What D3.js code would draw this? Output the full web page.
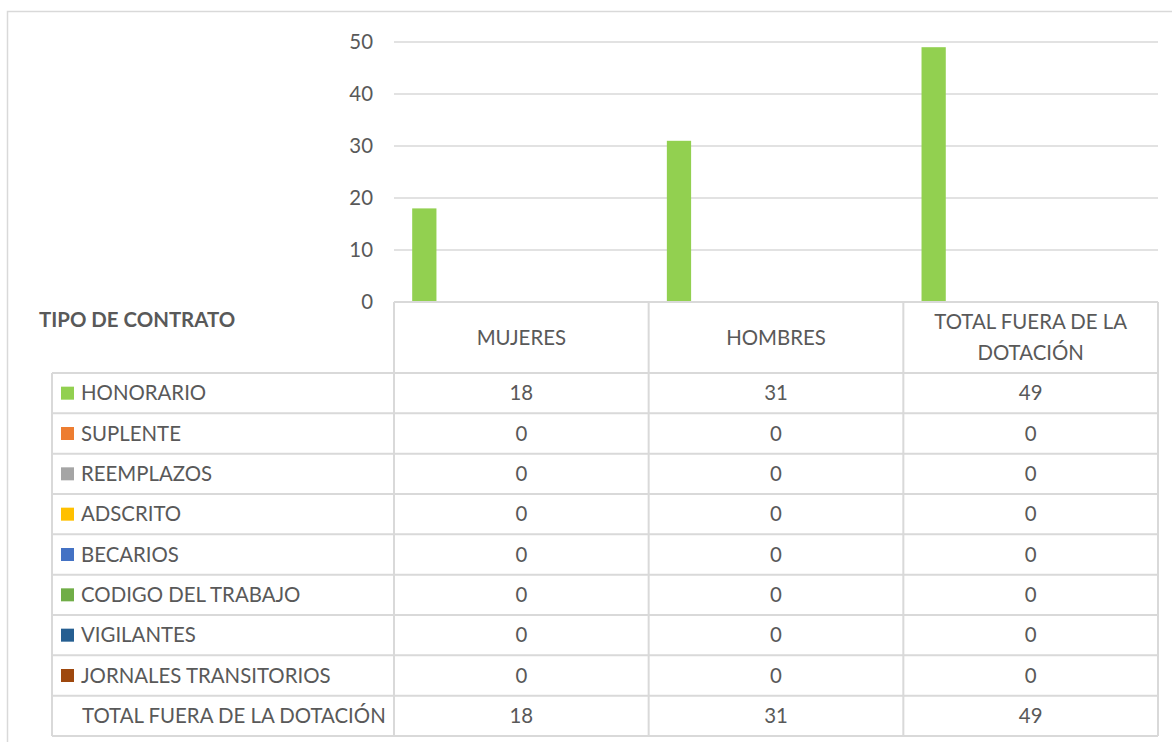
<!DOCTYPE html>
<html>
<head>
<meta charset="utf-8">
<script src="https://cdn.jsdelivr.net/npm/d3@7"></script>
<style>
  html, body { margin: 0; padding: 0; background: #fff; }
  svg { display: block; }
  text { font-family: Lato, "Open Sans", sans-serif; fill: #595959; }
</style>
</head>
<body>
<svg id="chart" width="1172" height="742"></svg>
<script>
// ---- data ----
const categories = ["MUJERES", "HOMBRES", "TOTAL FUERA DE LA DOTACIÓN"];
const categoryLines = [["MUJERES"], ["HOMBRES"], ["TOTAL FUERA DE LA", "DOTACIÓN"]];
const seriesNames = ["HONORARIO", "SUPLENTE", "REEMPLAZOS", "ADSCRITO", "BECARIOS",
  "CODIGO DEL TRABAJO", "VIGILANTES", "JORNALES TRANSITORIOS", "TOTAL FUERA DE LA DOTACIÓN"];
const honorario = [18, 31, 49];
const suplente = [0, 0, 0];
const reemplazos = [0, 0, 0];
const adscrito = [0, 0, 0];
const becarios = [0, 0, 0];
const codigoDelTrabajo = [0, 0, 0];
const vigilantes = [0, 0, 0];
const jornalesTransitorios = [0, 0, 0];
const totalFuera = [18, 31, 49];
const seriesValues = [honorario, suplente, reemplazos, adscrito, becarios,
  codigoDelTrabajo, vigilantes, jornalesTransitorios, totalFuera];
const seriesColors = ["#92D050", "#ED7D31", "#A5A5A5", "#FFC000", "#4472C4",
  "#70AD47", "#255E91", "#9E480E", null];
const yTicks = [0, 10, 20, 30, 40, 50];
const axisTitle = "TIPO DE CONTRATO";

// ---- layout ----
const svg = d3.select("#chart");
const plotL = 394, plotR = 1158, plotT = 42, plotB = 302;
const tableL = 52, headerB = 373, tableB = 736;
const grid = "#d9d9d9";

// font fitting (Calibri-like metrics)
const probe = svg.append("text").attr("font-size", 20).text("TOTAL FUERA DE LA DOTACIÓN");
const fs = 20 * 304 / probe.node().getComputedTextLength();
probe.remove();

// outer chart frame
svg.append("path").attr("d", `M7.5,742 V11.5 H1172`)
  .attr("fill", "none").attr("stroke", grid).attr("stroke-width", 1.5);

const x0 = d3.scaleBand().domain(categories).range([plotL, plotR]).padding(0);
const x1 = d3.scaleBand().domain(seriesNames).range([0, x0.bandwidth()])
  .paddingInner(0).paddingOuter(0.75);
const y = d3.scaleLinear().domain([0, 50]).range([plotB, plotT]);

// gridlines
svg.append("g").selectAll("line").data(yTicks).join("line")
  .attr("x1", plotL).attr("x2", plotR)
  .attr("y1", d => y(d)).attr("y2", d => y(d))
  .attr("stroke", grid).attr("stroke-width", 1.5);

// y axis labels
const yAxis = d3.axisLeft(y).tickValues(yTicks).tickSize(0).tickPadding(0);
const yg = svg.append("g").attr("transform", `translate(${plotL - 21},0)`).call(yAxis);
yg.select(".domain").remove();
yg.selectAll("text").attr("font-size", fs).attr("fill", "#595959")
  .style("font-family", "Lato, 'Open Sans', sans-serif");

// bars
const barData = [];
seriesNames.forEach((s, si) => {
  if (!seriesColors[si]) return;
  categories.forEach((c, ci) => {
    if (seriesValues[si][ci] > 0) barData.push({ s, c, v: seriesValues[si][ci], color: seriesColors[si] });
  });
});
svg.append("g").selectAll("rect").data(barData).join("rect")
  .attr("x", d => x0(d.c) + x1(d.s))
  .attr("width", x1.bandwidth())
  .attr("y", d => y(d.v))
  .attr("height", d => y(0) - y(d.v))
  .attr("fill", d => d.color);

// data table
const rowY = d3.scaleBand().domain(seriesNames).range([headerB, tableB]).padding(0);
const tg = svg.append("g");
// horizontal lines
tg.append("line").attr("x1", plotL).attr("x2", plotR).attr("y1", plotB).attr("y2", plotB)
  .attr("stroke", grid).attr("stroke-width", 2);
const hLines = [headerB, ...seriesNames.map(s => rowY(s) + rowY.bandwidth())];
tg.selectAll("line.h").data(hLines).join("line").attr("class", "h")
  .attr("x1", tableL).attr("x2", plotR).attr("y1", d => d).attr("y2", d => d)
  .attr("stroke", grid).attr("stroke-width", 2);
// vertical lines
const vLines = [...categories.map(c => x0(c)), plotR];
tg.selectAll("line.v").data(vLines).join("line").attr("class", "v")
  .attr("x1", d => d).attr("x2", d => d).attr("y1", plotB).attr("y2", tableB)
  .attr("stroke", grid).attr("stroke-width", 2);
tg.append("line").attr("x1", tableL).attr("x2", tableL).attr("y1", headerB).attr("y2", tableB)
  .attr("stroke", grid).attr("stroke-width", 2);

// header labels
categories.forEach((c, ci) => {
  const lines = categoryLines[ci];
  const cx = x0(c) + x0.bandwidth() / 2;
  const cy = (plotB + headerB) / 2;
  const lh = 31;
  lines.forEach((l, li) => {
    tg.append("text").attr("x", cx).attr("y", cy + (li - (lines.length - 1) / 2) * lh)
      .attr("dy", "0.35em").attr("text-anchor", "middle").attr("font-size", fs).text(l);
  });
});

// axis title
svg.append("text").attr("x", 39).attr("y", 327).attr("font-size", fs)
  .attr("font-weight", "bold").text(axisTitle);

// row labels, swatches, values
seriesNames.forEach((s, si) => {
  const cy = rowY(s) + rowY.bandwidth() / 2;
  if (seriesColors[si]) {
    tg.append("rect").attr("x", 61).attr("y", cy - 6.5).attr("width", 13).attr("height", 13)
      .attr("fill", seriesColors[si]);
  }
  tg.append("text").attr("x", seriesColors[si] ? 81 : 82).attr("y", cy).attr("dy", "0.35em")
    .attr("font-size", fs).text(s);
  categories.forEach((c, ci) => {
    tg.append("text").attr("x", x0(c) + x0.bandwidth() / 2).attr("y", cy).attr("dy", "0.35em")
      .attr("text-anchor", "middle").attr("font-size", fs).text(seriesValues[si][ci]);
  });
});
</script>
</body>
</html>
